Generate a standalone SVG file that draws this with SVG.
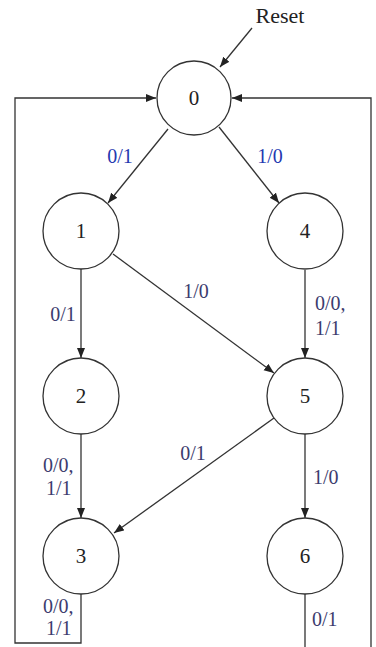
<svg xmlns="http://www.w3.org/2000/svg" width="376" height="647" viewBox="0 0 376 647">
<style>
.node circle{fill:#fff;stroke:#333;stroke-width:1.3}
.node text{font-family:"Liberation Serif",serif;font-size:21px;fill:#222;text-anchor:middle}
.edge{fill:none;stroke:#333;stroke-width:1.3;marker-end:url(#arr)}
.lbl{font-family:"Liberation Serif",serif;font-size:20px;fill:#3c3c6e}
.blue{fill:#2438b0}
</style>
<defs>
<marker id="arr" markerUnits="userSpaceOnUse" markerWidth="12" markerHeight="10" refX="10" refY="4" orient="auto">
<path d="M0,0 L10,4 L0,8 Z" fill="#222"/>
</marker>
</defs>
<rect width="376" height="647" fill="#fff"/>
<g id="connectors">
<line class="edge" x1="252" y1="28" x2="220" y2="67"/>
<line class="edge" x1="168" y1="129" x2="108" y2="203"/>
<line class="edge" x1="219" y1="127" x2="279" y2="203"/>
<line class="edge" x1="81" y1="269" x2="81" y2="358"/>
<line class="edge" x1="113" y1="254" x2="274" y2="373"/>
<line class="edge" x1="305" y1="270" x2="305" y2="358"/>
<line class="edge" x1="81" y1="434" x2="81" y2="518"/>
<line class="edge" x1="274" y1="418" x2="114" y2="533"/>
<line class="edge" x1="305" y1="434" x2="305" y2="518"/>
<path class="edge" d="M81,594 V643 H15 V98 H156"/>
<path class="edge" d="M305,594 V660 H371 V98 H232"/>
</g>
<g id="labels">
<text class="lbl" x="280" y="23" text-anchor="middle" style="fill:#222;font-size:22px">Reset</text>
<text class="lbl blue" x="120" y="163" text-anchor="middle">0/1</text>
<text class="lbl blue" x="270" y="163" text-anchor="middle">1/0</text>
<text class="lbl" x="63" y="321" text-anchor="middle">0/1</text>
<text class="lbl" x="196" y="298" text-anchor="middle">1/0</text>
<text class="lbl" x="315" y="310">0/0,</text>
<text class="lbl" x="315" y="335">1/1</text>
<text class="lbl" x="193" y="460" text-anchor="middle">0/1</text>
<text class="lbl" x="43" y="472">0/0,</text>
<text class="lbl" x="46" y="495">1/1</text>
<text class="lbl" x="313" y="484">1/0</text>
<text class="lbl" x="43" y="613">0/0,</text>
<text class="lbl" x="46" y="635">1/1</text>
<text class="lbl" x="312" y="626">0/1</text>
</g>
<g id="n0" class="node"><circle cx="194" cy="98" r="37"/><text x="194" y="105">0</text></g>
<g id="n1" class="node"><circle cx="81" cy="231" r="38"/><text x="81" y="238">1</text></g>
<g id="n4" class="node"><circle cx="305" cy="231" r="38"/><text x="305" y="238">4</text></g>
<g id="n2" class="node"><circle cx="81" cy="396" r="38"/><text x="81" y="403">2</text></g>
<g id="n5" class="node"><circle cx="305" cy="396" r="38"/><text x="305" y="403">5</text></g>
<g id="n3" class="node"><circle cx="81" cy="556" r="38"/><text x="81" y="563">3</text></g>
<g id="n6" class="node"><circle cx="305" cy="556" r="38"/><text x="305" y="563">6</text></g>
</svg>
